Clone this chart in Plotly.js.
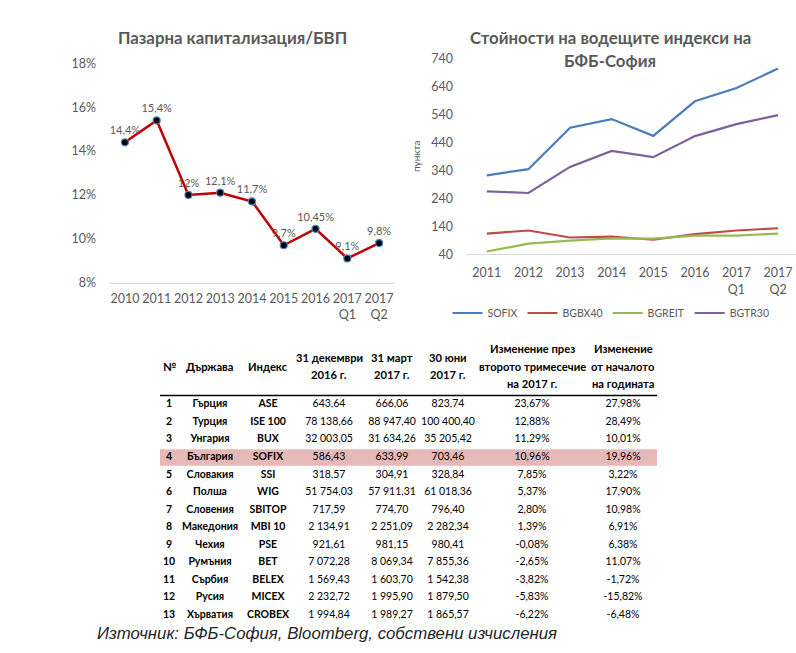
<!DOCTYPE html>
<html>
<head>
<meta charset="utf-8">
<script src="https://cdn.plot.ly/plotly-3.0.1.min.js"></script>
<style>
  html, body { margin: 0; padding: 0; background: #ffffff; }
  #chart { width: 796px; height: 653px; }
</style>
</head>
<body>
<div id="chart"></div>
<script>
// Market capitalisation to GDP
const capPeriods = ['2010', '2011', '2012', '2013', '2014', '2015', '2016', '2017<br>Q1', '2017<br>Q2'];
const capValues = [14.4, 15.4, 12, 12.1, 11.7, 9.7, 10.45, 9.1, 9.8];

// BSE-Sofia index levels
const indexPeriods = ['2011', '2012', '2013', '2014', '2015', '2016', '2017<br>Q1', '2017<br>Q2'];
const sofix  = [322, 344, 492, 523, 463, 586.43, 633.99, 703.46];
const bgbx40 = [114, 125, 100, 103, 92, 112, 125, 133];
const bgreit = [50, 78, 89, 97, 96, 107, 107, 114];
const bgtr30 = [265, 259, 352, 409, 387, 462, 505, 537];

// Regional index table
const tableHeaders = [
  ['№'], ['Държава'], ['Индекс'],
  ['31 декември', '2016 г.'], ['31 март', '2017 г.'], ['30 юни', '2017 г.'],
  ['Изменение през', 'второто тримесечие', 'на 2017 г.'], ['Изменение', 'от началото', 'на годината']
];
const ranks = ['1', '2', '3', '4', '5', '6', '7', '8', '9', '10', '11', '12', '13'];
const countries = ['Гърция', 'Турция', 'Унгария', 'България', 'Словакия', 'Полша', 'Словения', 'Македония', 'Чехия', 'Румъния', 'Сърбия', 'Русия', 'Хърватия'];
const indexNames = ['ASE', 'ISE 100', 'BUX', 'SOFIX', 'SSI', 'WIG', 'SBITOP', 'MBI 10', 'PSE', 'BET', 'BELEX', 'MICEX', 'CROBEX'];
const dec2016 = ['643,64', '78 138,66', '32 003,05', '586,43', '318,57', '51 754,03', '717,59', '2 134,91', '921,61', '7 072,28', '1 569,43', '2 232,72', '1 994,84'];
const mar2017 = ['666,06', '88 947,40', '31 634,26', '633,99', '304,91', '57 911,31', '774,70', '2 251,09', '981,15', '8 069,34', '1 603,70', '1 995,90', '1 989,27'];
const jun2017 = ['823,74', '100 400,40', '35 205,42', '703,46', '328,84', '61 018,36', '796,40', '2 282,34', '980,41', '7 855,36', '1 542,38', '1 879,50', '1 865,57'];
const q2Change = ['23,67%', '12,88%', '11,29%', '10,96%', '7,85%', '5,37%', '2,80%', '1,39%', '-0,08%', '-2,65%', '-3,82%', '-5,83%', '-6,22%'];
const ytdChange = ['27,98%', '28,49%', '10,01%', '19,96%', '3,22%', '17,90%', '10,98%', '6,91%', '6,38%', '11,07%', '-1,72%', '-15,82%', '-6,48%'];
const highlightCountry = 'България';

const W = 796, H = 653;
const px = x => x / W;
const py = y => 1 - y / H;
const FONT = 'Lato, "Noto Sans", sans-serif';
const GREY = '#595959';

const pctLabel = v => String(v).replace('.', ',') + '%';
const bold = s => '<b>' + s + '</b>';

const traces = [
  {
    type: 'scatter', mode: 'lines+markers+text',
    x: capPeriods, y: capValues,
    text: capValues.map(pctLabel), textposition: 'top center',
    textfont: { family: FONT, size: 11, color: GREY },
    line: { color: '#C00000', width: 2.5 },
    marker: { color: '#000000', size: 7, line: { color: '#4F81BD', width: 1.2 } },
    xaxis: 'x', yaxis: 'y', showlegend: false, hoverinfo: 'skip', cliponaxis: false
  },
  { type: 'scatter', mode: 'lines', name: 'SOFIX', x: indexPeriods, y: sofix, line: { color: '#4A7EBB', width: 2.2 }, xaxis: 'x2', yaxis: 'y2' },
  { type: 'scatter', mode: 'lines', name: 'BGBX40', x: indexPeriods, y: bgbx40, line: { color: '#BE4B48', width: 2.2 }, xaxis: 'x2', yaxis: 'y2' },
  { type: 'scatter', mode: 'lines', name: 'BGREIT', x: indexPeriods, y: bgreit, line: { color: '#98B954', width: 2.2 }, xaxis: 'x2', yaxis: 'y2' },
  { type: 'scatter', mode: 'lines', name: 'BGTR30', x: indexPeriods, y: bgtr30, line: { color: '#7D60A0', width: 2.2 }, xaxis: 'x2', yaxis: 'y2' }
];

// Table body: one text column per field, rows on a reversed numeric axis
const colCenters = [169, 210, 268, 329, 392, 448, 532, 623];
const columns = [ranks.map(bold), countries.map(bold), indexNames.map(bold), dec2016, mar2017, jun2017, q2Change, ytdChange];
const rowNumbers = ranks.map(Number);
columns.forEach((col, i) => {
  traces.push({
    type: 'scatter', mode: 'text',
    x: col.map(() => colCenters[i]), y: rowNumbers, text: col,
    textposition: 'middle center',
    textfont: { family: FONT, size: 10.5, color: '#000000' },
    xaxis: 'x3', yaxis: 'y3', showlegend: false, hoverinfo: 'skip', cliponaxis: false
  });
});
const highlightRow = countries.indexOf(highlightCountry) + 1;

// Header row of the table, each line placed on a 17.5px pitch around the header centre
const annotations = [];
tableHeaders.forEach((lines, i) => {
  lines.forEach((line, k) => {
    annotations.push({
      xref: 'paper', yref: 'paper', x: px(colCenters[i]), y: py(366 + (k - (lines.length - 1) / 2) * 17.5),
      xanchor: 'center', yanchor: 'middle', showarrow: false,
      text: bold(line), font: { family: FONT, size: 11.2, color: '#000000' }
    });
  });
});

annotations.push(
  { xref: 'paper', yref: 'paper', x: px(232), y: py(38), xanchor: 'center', yanchor: 'middle', showarrow: false,
    text: bold('Пазарна капитализация/БВП'), font: { family: FONT, size: 16.8, color: GREY } },
  { xref: 'paper', yref: 'paper', x: px(610), y: py(37.5), xanchor: 'center', yanchor: 'middle', showarrow: false,
    text: bold('Стойности на водещите индекси на'), font: { family: FONT, size: 16.8, color: GREY } },
  { xref: 'paper', yref: 'paper', x: px(610), y: py(60), xanchor: 'center', yanchor: 'middle', showarrow: false,
    text: bold('БФБ-София'), font: { family: FONT, size: 16.8, color: GREY } },
  { xref: 'paper', yref: 'paper', x: px(95), y: py(633), xanchor: 'left', yanchor: 'middle', showarrow: false,
    text: '<i>Източник: БФБ-София, Bloomberg, собствени изчисления</i>',
    font: { family: '"Liberation Sans", Arial, sans-serif', size: 16.8, color: '#262626' } }
);

const layout = {
  width: W, height: H,
  margin: { l: 0, r: 0, t: 0, b: 0 },
  paper_bgcolor: '#ffffff', plot_bgcolor: 'rgba(0,0,0,0)',
  font: { family: FONT, color: GREY, size: 12 },
  showlegend: true,
  legend: {
    orientation: 'h', x: px(611), xanchor: 'center', y: py(313), yanchor: 'middle',
    font: { family: FONT, size: 10.5, color: GREY }, itemwidth: 30,
    bgcolor: 'rgba(0,0,0,0)'
  },
  xaxis: {
    domain: [px(109), px(395)], range: [-0.5, 8.5], type: 'category',
    showline: true, linecolor: '#D9D9D9', linewidth: 1, showgrid: false, zeroline: false, ticks: '',
    ticklabelstandoff: 4, automargin: false,
    tickfont: { family: FONT, size: 12.5, color: GREY }, anchor: 'y'
  },
  yaxis: {
    domain: [py(282.5), py(63.5)], range: [8, 18], dtick: 2, ticksuffix: '%',
    showline: false, showgrid: false, zeroline: false, ticks: '', ticklabelstandoff: 12, automargin: false,
    tickfont: { family: FONT, size: 12.5, color: GREY }, anchor: 'x'
  },
  xaxis2: {
    domain: [px(466), 1], range: [-0.5, 7.43], type: 'category',
    showline: true, linecolor: '#D9D9D9', linewidth: 1, showgrid: false, zeroline: false, ticks: '',
    ticklabelstandoff: 7, automargin: false,
    tickfont: { family: FONT, size: 12.5, color: GREY }, anchor: 'y2'
  },
  yaxis2: {
    domain: [py(254.3), py(58.3)], range: [40, 740], dtick: 100, tick0: 40,
    showline: false, showgrid: false, zeroline: false, ticks: '', ticklabelstandoff: 12, automargin: false,
    tickfont: { family: FONT, size: 12.5, color: GREY }, anchor: 'x2',
    title: { text: 'пункта', font: { family: FONT, size: 10, color: GREY }, standoff: 8 }
  },
  xaxis3: {
    domain: [0, 1], range: [0, W], visible: false, fixedrange: true, anchor: 'y3'
  },
  yaxis3: {
    domain: [py(624), py(396)], range: [13.5, 0.5], visible: false, fixedrange: true, anchor: 'x3'
  },
  shapes: [
    { type: 'rect', xref: 'x3', yref: 'y3', x0: 160, x1: 657, y0: highlightRow - 0.47, y1: highlightRow + 0.47,
      fillcolor: '#E6B9B8', line: { width: 0 }, layer: 'below' },
    { type: 'line', xref: 'x3', yref: 'paper', x0: 160, x1: 657, y0: py(395.5), y1: py(395.5),
      line: { color: '#000000', width: 1.5 } }
  ],
  annotations: annotations
};

Plotly.newPlot('chart', traces, layout, { displayModeBar: false, staticPlot: true });
</script>
</body>
</html>
